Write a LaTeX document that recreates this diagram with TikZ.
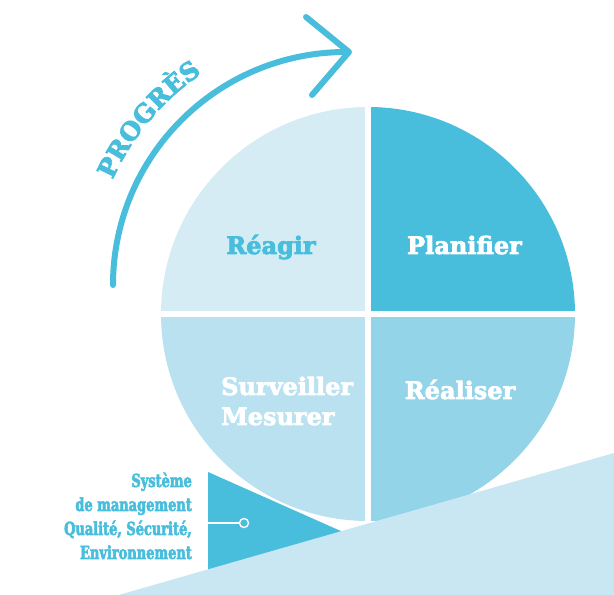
\documentclass[tikz,border=0pt]{standalone}
\usepackage{fontspec}
\setmainfont{DejaVu Serif}[BoldFeatures={FakeBold=3}]
\newfontfamily\labfont{DejaVu Serif}[FakeStretch=0.72, BoldFeatures={FakeBold=3}]
\usetikzlibrary{decorations.text}
\definecolor{cblue}{HTML}{48BDDC}
\definecolor{cpale}{HTML}{D6ECF5}
\definecolor{cmid}{HTML}{B9E1EF}
\definecolor{cbr}{HTML}{93D4E8}
\definecolor{cslope}{HTML}{C8E7F2}
\begin{document}
\begin{tikzpicture}[x=1pt,y=1pt,
  quadlabel/.style={font=\bfseries\fontsize{24}{30}\selectfont, inner sep=0pt, anchor=base},
  syslabel/.style={font=\labfont\bfseries\fontsize{18}{24}\selectfont, text=cblue, inner sep=0pt, anchor=base east},
  arrowline/.style={cblue, line width=6pt, line cap=round, line join=round},
  gapline/.style={white, line width=6pt}]
\useasboundingbox (0,0) rectangle (614,595);
% circle quadrants
\coordinate (C) at (368,281);
\fill[cpale] (C) -- ++(180:207) arc[start angle=180,end angle=90,radius=207] -- cycle;
\fill[cblue] (C) -- ++(90:207) arc[start angle=90,end angle=0,radius=207] -- cycle;
\fill[cbr] (C) -- ++(0:207) arc[start angle=0,end angle=-90,radius=207] -- cycle;
\fill[cmid] (C) -- ++(-90:207) arc[start angle=-90,end angle=-180,radius=207] -- cycle;
\draw[gapline] ([yshift=-210pt]C) -- ([yshift=210pt]C);
\draw[gapline] ([xshift=-210pt]C) -- ([xshift=210pt]C);
% wedge
\fill[cblue] (208,123) -- (370,51) -- (208,20) -- cycle;
\coordinate (w) at (208,72);
\node[circle, draw=white, fill=cblue, line width=1.4pt, minimum size=9pt, inner sep=0pt] (dot) at (244,72) {};
\draw[white, line width=1.4pt] (w) -- (dot);
% slope
\fill[cslope] (118.6,0) -- (614,142) -- (614,0) -- cycle;
% progress arrow
\draw[arrowline] (113,310) arc[start angle=180,end angle=90,radius=233];
\draw[arrowline] (306,578) -- (349,543) -- (312,500);
\path[decorate, decoration={text along path, text align=center,
  text={|\bfseries\fontsize{25}{25}\selectfont\color{cblue}|PROGRÈS}}]
  (346,310) ++(172:256) arc[start angle=172,end angle=108,radius=256];
% quadrant labels
\node[quadlabel, text=cblue] (reagir) at (271,341) {Réagir};
\node[quadlabel, text=white] (plan) at (464.5,341) {Planifier};
\node[quadlabel, text=white, anchor=base west] (surv) at (221,200) {Surveiller};
\node[quadlabel, text=white, anchor=base west] (mes) at (221,170) {Mesurer};
\node[quadlabel, text=white] (real) at (460,196) {Réaliser};
% system label
\node[syslabel] (l1) at (192,108) {Système};
\node[syslabel] (l2) at (192,84) {de management};
\node[syslabel] (l3) at (192,60) {Qualité, Sécurité,};
\node[syslabel] (l4) at (192,36) {Environnement};
\end{tikzpicture}
\end{document}
